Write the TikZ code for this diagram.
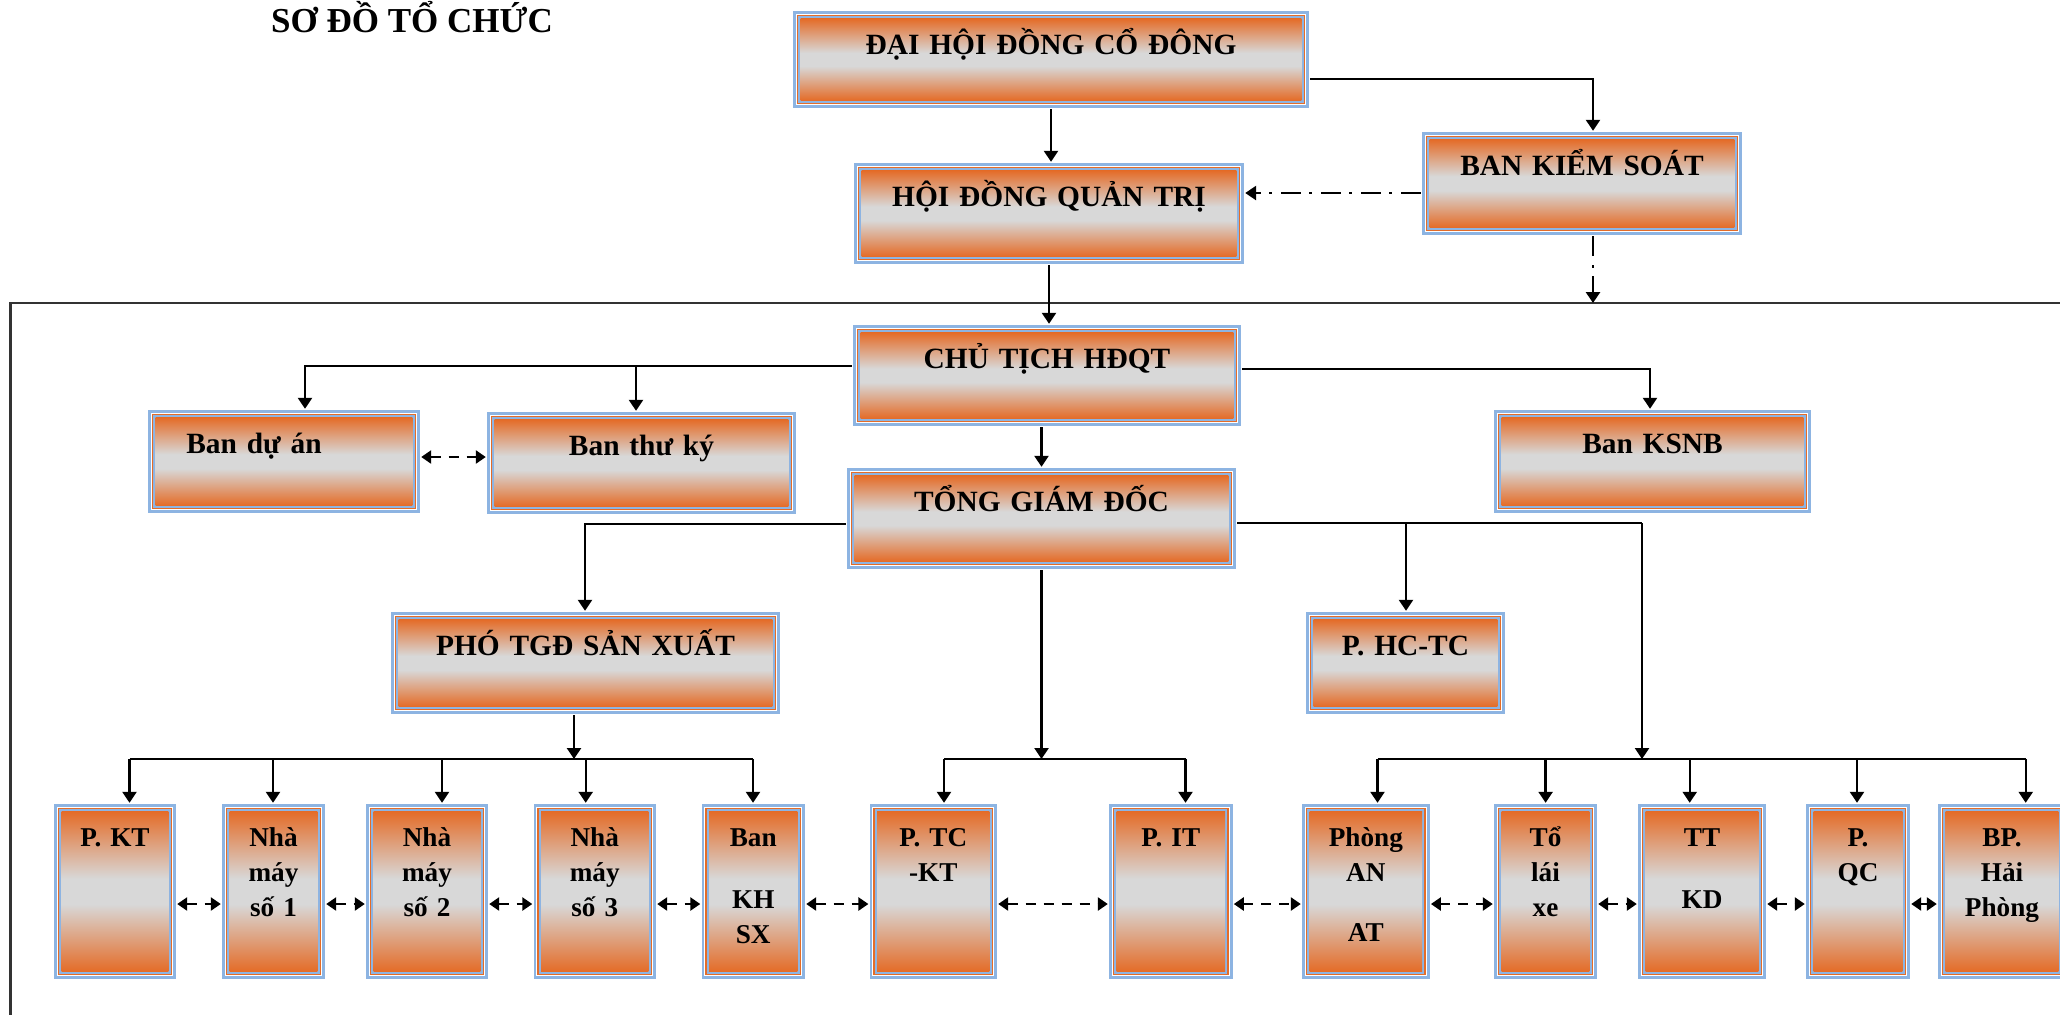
\documentclass[tikz,border=0pt]{standalone}
\usepackage{fontspec}
\setmainfont{Liberation Serif}
\usetikzlibrary{arrows.meta}
\definecolor{boxorange}{RGB}{228,108,40}
\definecolor{boxgray}{RGB}{216,216,216}
\definecolor{boxblue}{RGB}{141,180,226}
\pgfdeclareverticalshading{orgshade}{100bp}{color(0bp)=(boxorange);
  color(25bp)=(boxorange); color(46bp)=(boxgray); color(54bp)=(boxgray);
  color(75bp)=(boxorange); color(100bp)=(boxorange)}

\begin{document}
\begin{tikzpicture}[x=0.5pt, y=-0.5pt, line width=1.2pt,
  orgbox/.style={rectangle, inner sep=0pt, fill=boxblue,
    path picture={
      \foreach \d/\c in {1.3pt/white, 1.8pt/boxorange, 2.7pt/boxblue}
        \fill[\c] ([shift={(\d,-\d)}]path picture bounding box.north west)
          rectangle ([shift={(-\d,\d)}]path picture bounding box.south east);
      \shade[shading=orgshade]
        ([shift={(3.8pt,-3.8pt)}]path picture bounding box.north west)
        rectangle ([shift={(-3.8pt,3.8pt)}]path picture bounding box.south east);
    }},
  lbl/.style={anchor=base, text width=8cm, align=center, inner sep=0pt,
              font=\bfseries\fontsize{14.7}{17.3}\selectfont},
  lbls/.style={lbl, text width=3cm, font=\bfseries\fontsize{13.6}{17.3}\selectfont},
  charttitle/.style={anchor=base, inner sep=0pt,
                     font=\bfseries\fontsize{17.5}{21}\selectfont},
  arr/.style={-{Triangle[width=7pt,length=5.5pt]}},
  link/.style={{Triangle[width=6.5pt,length=5pt]}-{Triangle[width=6.5pt,length=5pt]},
               line width=1.4pt, dash pattern=on 5pt off 4pt},
  ctrl/.style={-{Triangle[width=7pt,length=5.5pt]}, line width=1.4pt,
               dash pattern=on 10pt off 4.5pt on 1.5pt off 4pt},
  outerframe/.style={line width=1.3pt, draw=black!80}
]
  \useasboundingbox (0,0) rectangle (2060,1014);

  % title
  \node[charttitle] (title) at (412,32) {SƠ ĐỒ TỔ CHỨC};

  % frame round the executive part
  \draw[outerframe] (10.5,1040) -- (10.5,303) -- (2090,303);

  % top level
  \node[orgbox, minimum width=258pt, minimum height=48.5pt] (dhdcd) at (1051,59.5) {};
  \node[lbl] (dhdcd-t) at ([yshift=-22.5pt]dhdcd.north) {ĐẠI HỘI ĐỒNG CỔ ĐÔNG};
  \node[orgbox, minimum width=195pt, minimum height=50.5pt] (hdqt) at (1049,213.5) {};
  \node[lbl] (hdqt-t) at ([yshift=-22.5pt]hdqt.north) {HỘI ĐỒNG QUẢN TRỊ};
  \node[orgbox, minimum width=160pt, minimum height=51.5pt] (bks) at (1582,183.5) {};
  \node[lbl] (bks-t) at ([yshift=-22.5pt]bks.north) {BAN KIỂM SOÁT};

  % chairman and boards
  \node[orgbox, minimum width=194pt, minimum height=50.5pt] (ct) at (1047,375.5) {};
  \node[lbl] (ct-t) at ([yshift=-22.5pt]ct.north) {CHỦ TỊCH HĐQT};
  \node[orgbox, minimum width=136pt, minimum height=51.5pt] (bda) at (284,461.5) {};
  \node[lbl] (bda-t) at ([xshift=-15pt,yshift=-22.5pt]bda.north) {Ban dự án};
  \node[orgbox, minimum width=154.5pt, minimum height=51pt] (btk) at (641.5,463) {};
  \node[lbl] (btk-t) at ([yshift=-22.5pt]btk.north) {Ban thư ký};
  \node[orgbox, minimum width=158.5pt, minimum height=51.5pt] (ksnb) at (1652.5,461.5) {};
  \node[lbl] (ksnb-t) at ([yshift=-22.5pt]ksnb.north) {Ban KSNB};

  % general director level
  \node[orgbox, minimum width=194.5pt, minimum height=50.5pt] (tgd) at (1041.5,518.5) {};
  \node[lbl] (tgd-t) at ([yshift=-22.5pt]tgd.north) {TỔNG GIÁM ĐỐC};
  \node[orgbox, minimum width=194.5pt, minimum height=51pt] (ptgd) at (585.5,663) {};
  \node[lbl] (ptgd-t) at ([yshift=-22.5pt]ptgd.north) {PHÓ TGĐ SẢN XUẤT};
  \node[orgbox, minimum width=99.5pt, minimum height=51pt] (phc) at (1405.5,663) {};
  \node[lbl] (phc-t) at ([yshift=-22.5pt]phc.north) {P. HC-TC};

  % departments
  \foreach \n/\x/\w/\txt in {pkt/115/61pt/{P. KT}, nm1/273.5/51.5pt/{Nhà\\máy\\số 1},
      nm2/427/61pt/{Nhà\\máy\\số 2}, nm3/594.75/61.25pt/{Nhà\\máy\\số 3},
      bkh/753.25/51.75pt/{Ban\\[13.5pt]KH\\SX}, ptc/933.3/63.7pt/{P. TC\\-KT},
      pit/1170.8/61.8pt/{P. IT}, pan/1365.85/63.85pt/{Phòng\\AN\\[12.7pt]AT},
      tlx/1545.5/51.5pt/{Tổ\\lái\\xe}, ttkd/1702/64pt/{TT\\[13.6pt]KD},
      pqc/1858/52pt/{P.\\QC}, bp/2002/64pt/{BP.\\Hải\\Phòng}} {
    \node[orgbox, minimum width=\w, minimum height=87.5pt] (\n) at (\x,891.5) {};
    \node[lbls] (\n-t) at ([yshift=-22pt]\n.north) {\txt};
  }

  % reporting lines, top
  \coordinate (c1) at (1593,79);
  \draw[arr] (dhdcd.south) -- (dhdcd.south |- hdqt.north);
  \draw[arr] (dhdcd.east |- c1) -- (c1) -- (c1 |- bks.north);
  \coordinate (c2) at (0,193);
  \draw[ctrl] (bks.west |- c2) -- (hdqt.east |- c2);
  \coordinate (ftop) at (0,303);
  \draw[ctrl] (c1 |- bks.south) -- (c1 |- ftop);
  \draw[arr] (hdqt.south) -- (hdqt.south |- ct.north);

  % chairman
  \coordinate (c3) at (305,366);
  \coordinate (c4) at (636,366);
  \draw[arr] (ct.west |- c3) -- (c3) -- (c3 |- bda.north);
  \draw[arr] (c4) -- (c4 |- btk.north);
  \coordinate (c5) at (1650,369);
  \draw[arr] (ct.east |- c5) -- (c5) -- (c5 |- ksnb.north);
  \draw[arr] (tgd.north |- ct.south) -- (tgd.north);
  \coordinate (rowB) at (0,457);
  \draw[link] (bda.east |- rowB) -- (btk.west |- rowB);

  % general director
  \coordinate (bus) at (0,759);
  \coordinate (c6) at (585,524);
  \draw[arr] (tgd.west |- c6) -- (c6) -- (c6 |- ptgd.north);
  \coordinate (c7) at (1406,523);
  \coordinate (c8) at (1642,523);
  \draw (tgd.east |- c7) -- (c8);
  \draw[arr] (c7) -- (c7 |- phc.north);
  \draw[arr] (c8) -- (c8 |- bus);
  \draw[arr] (tgd.south) -- (tgd.south |- bus);
  \coordinate (c9) at (574,759);
  \draw[arr] (c9 |- ptgd.south) -- (c9);

  % drops to the departments
  \foreach \n/\x in {pkt/129.5, nm1/273, nm2/442, nm3/585.7, bkh/753, ptc/944,
      pit/1185.5, pan/1377.5, tlx/1545.6, ttkd/1689.7, pqc/1857, bp/2025.7} {
    \coordinate (d-\n) at (\x,759);
    \draw[arr] (d-\n) -- (d-\n |- \n.north);
  }
  \draw (d-pkt) -- (d-bkh);
  \draw (d-ptc) -- (d-pit);
  \draw (d-pan) -- (d-bp);

  % links between departments
  \coordinate (rowC) at (0,904);
  \foreach \a/\b in {pkt/nm1, nm1/nm2, nm2/nm3, nm3/bkh, bkh/ptc, ptc/pit,
      pit/pan, pan/tlx, tlx/ttkd, ttkd/pqc, pqc/bp}
    \draw[link] (\a.east |- rowC) -- (\b.west |- rowC);
\end{tikzpicture}
\end{document}
